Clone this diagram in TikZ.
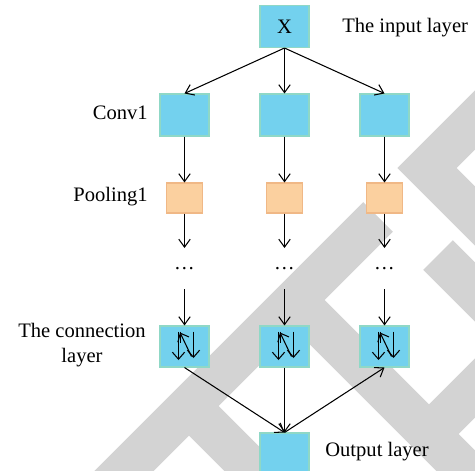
\documentclass[tikz,border=0pt]{standalone}
\usepackage{fontspec}
\setmainfont{Liberation Serif}
\usepackage{tikz}
\usetikzlibrary{arrows.meta, positioning, calc}

\definecolor{cellblue}{RGB}{115,209,238}
\definecolor{cellline}{RGB}{143,216,198}
\definecolor{poolfill}{RGB}{251,208,159}
\definecolor{poolline}{RGB}{240,184,134}
\definecolor{markgray}{RGB}{211,211,211}

\begin{document}
\begin{tikzpicture}[
        font=\fontsize{11.7}{14.7}\selectfont,
        cell/.style={rectangle, draw=cellline, fill=cellblue, line width=0.6pt,
        minimum width=0.98cm, minimum height=0.84cm, inner sep=0pt},
        pool/.style={rectangle, draw=poolline, fill=poolfill, line width=0.6pt,
        minimum width=0.72cm, minimum height=0.60cm, inner sep=0pt},
        lbl/.style={inner sep=0pt, align=center},
        arrow/.style={-{Straight Barb[length=4.5pt, width=6.5pt]}, line width=0.6pt},
        flow/.style={-{Straight Barb[length=4pt, width=7pt]}, line width=0.6pt},
        band/.style={markgray, line width=0.84cm}
    ]

    \useasboundingbox (0,0) rectangle (9.5,9.4);

    % background stripes
    \begin{scope}
        \clip (0,0) rectangle (9.5,9.4);
        \draw[band] (10.54,8.04) -- (8.54,6.04) -- (10.54,4.04);
        \draw[band] (7.56,5.06) -- (1.8,-0.7);
        \draw[band] (5.90,3.40) -- (9.60,-0.30);
        \draw[band] (3.78,1.28) -- (6.0,-0.94);
        \draw[band] (8.58,0.72) -- (10.58,2.72);
        \draw[band] (8.76,4.30) -- (10.76,2.30);
    \end{scope}

    % input
    \node[cell] (inp) at (5.69, 8.87) {X};
    \node[lbl, anchor=west] (inptxt) at (6.84, 8.84) {The input layer};

    % three branches
    \foreach \i/\x in {1/3.69, 2/5.69, 3/7.69} {
        \node[cell] (conv\i) at (\x, 7.10) {};
        \node[pool] (pool\i) at (\x, 5.44) {};
        \coordinate (mid\i) at (\x, 4.44);
        \node[lbl] (dots\i) at (\x, 4.02) {\dots};
        \coordinate (from\i) at (\x, 3.62);
        \node[cell, minimum height=0.82cm] (conn\i) at (\x, 2.47) {};

        % icon of the connection layer
        \draw[flow] ($(conn\i.center)+(-0.12,0.30)$) -- ($(conn\i.center)+(-0.12,-0.27)$);
        \draw[line width=0.6pt] ($(conn\i.center)+(-0.08,0.30)$) -- ($(conn\i.center)+(-0.08,0.08)$);
        \draw[flow] ($(conn\i.center)+(0.14,-0.20)$) -- ($(conn\i.center)+(-0.09,0.28)$);
        \draw[flow] ($(conn\i.center)+(0.18,0.30)$) -- ($(conn\i.center)+(0.18,-0.23)$);

        \draw[arrow] (inp.south) -- (conv\i.north);
        \draw[arrow] (conv\i.south) -- (pool\i.north);
        \draw[arrow] (pool\i.south) -- (mid\i);
        \draw[arrow] (from\i) -- (conn\i.north);
    }

    % output
    \node[cell] (out) at (5.69, 0.32) {};
    \node[lbl, anchor=west] (outtxt) at (6.50, 0.36) {Output layer};

    \draw[arrow] (conn1.south) -- (out.north);
    \draw[arrow] (conn2.south) -- (out.north);
    \draw[arrow] (out.north) -- (conn3.south);

    % row labels
    \node[lbl, anchor=east] (convtxt) at (2.96, 7.14) {Conv1};
    \node[lbl, anchor=east] (pooltxt) at (2.96, 5.46) {Pooling1};
    \node[lbl] (conntxt) at (1.64, 2.50) {The connection\\layer};

\end{tikzpicture}
\end{document}
